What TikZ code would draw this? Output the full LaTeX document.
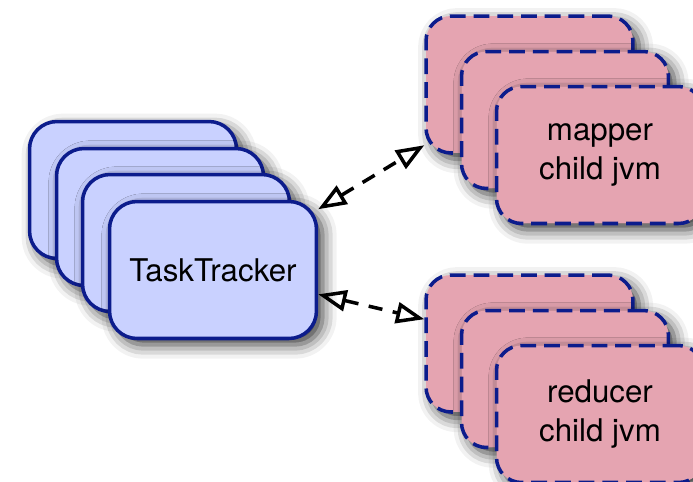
\documentclass[tikz,border=0pt]{standalone}
\usepackage{fontspec}
\setmainfont{TeX Gyre Heros}
\usetikzlibrary{arrows.meta,shadows.blur}
\definecolor{trackerfill}{RGB}{201,209,255}
\definecolor{childfill}{RGB}{229,164,177}
\definecolor{navyline}{RGB}{12,28,140}
\begin{document}
\begin{tikzpicture}[x=0.02cm, y=-0.02cm,
    box/.style={rectangle, rounded corners=0.55cm, minimum width=4.14cm, minimum height=2.74cm,
      inner sep=0pt, line width=2pt, draw=navyline, align=center, font=\fontsize{17.8}{22}\selectfont,
      blur shadow={shadow xshift=3.5pt, shadow yshift=-3.5pt, shadow blur radius=8pt, shadow opacity=80}},
    tracker/.style={box, fill=trackerfill},
    child/.style={box, fill=childfill, rounded corners=0.5cm, dash pattern=on 9pt off 4.5pt},
    link/.style={line width=2pt, dash pattern=on 8pt off 6pt,
      {Triangle[open,length=16pt,width=12pt]}-{Triangle[open,length=16pt,width=12pt]}}]
  \useasboundingbox (0,0) rectangle (693,481);
  % task trackers
  \node (tt1) at (133,190) [tracker] {};
  \node (tt2) at (160,217) [tracker] {};
  \node (tt3) at (186,243) [tracker] {};
  \node (tt4) at (213,270) [tracker] {TaskTracker};
  % mapper jvms
  \node (map1) at (529.5,84.5) [child] {};
  \node (map2) at (565,120) [child] {};
  \node (map3) at (600,155) [child] {mapper\\child jvm};
  % reducer jvms
  \node (red1) at (529.5,343.5) [child] {};
  \node (red2) at (565,379) [child] {};
  \node (red3) at (600,414) [child] {reducer\\child jvm};
  \draw[link] (tt4.30) -- (map1.210);
  \draw[link] (tt4.-13) -- (red1.167);
\end{tikzpicture}
\end{document}
